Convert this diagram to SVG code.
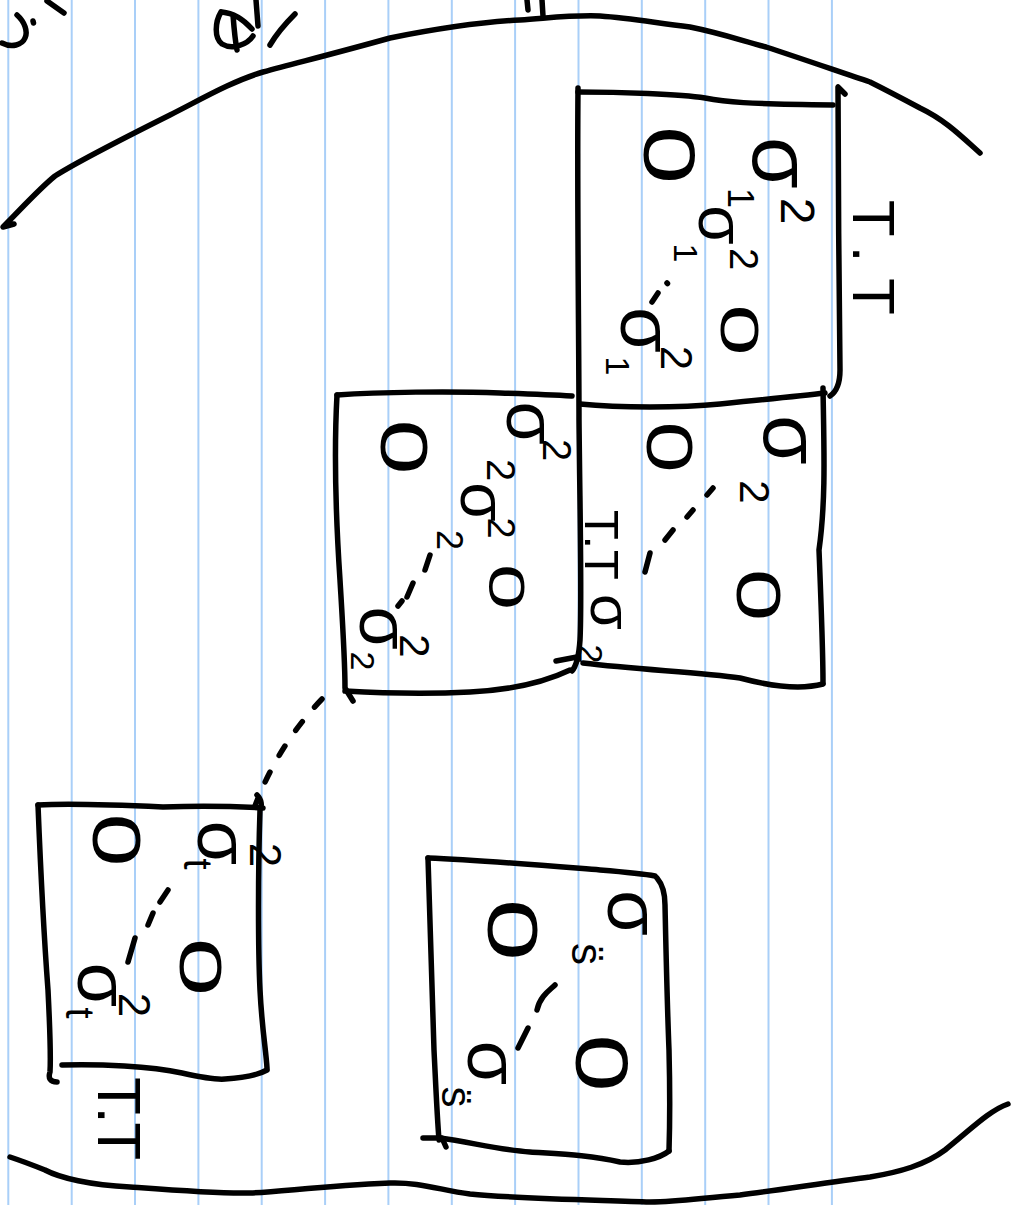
<svg xmlns="http://www.w3.org/2000/svg" width="1013" height="1205" viewBox="0 0 1013 1205">
<defs>
<style>
.rule{stroke:#a9cff8;stroke-width:2}
.ink{fill:none;stroke:#000;stroke-width:5.5;stroke-linecap:round;stroke-linejoin:round}
.dot{fill:none;stroke:#000;stroke-width:5.5;stroke-linecap:round;stroke-dasharray:11 19}
.h{font-family:"Liberation Sans",Arial,sans-serif;fill:#000;text-anchor:middle}
.lbl{font-family:"Liberation Sans",Arial,sans-serif;fill:#000}
</style>
</defs>
<rect width="1013" height="1205" fill="#fff"/>
<g id="paper">
<line class="rule" x1="8.3" y1="0" x2="8.3" y2="1205"/>
<line class="rule" x1="71.7" y1="0" x2="71.7" y2="1205"/>
<line class="rule" x1="135" y1="0" x2="135" y2="1205"/>
<line class="rule" x1="198.4" y1="0" x2="198.4" y2="1205"/>
<line class="rule" x1="261.7" y1="0" x2="261.7" y2="1205"/>
<line class="rule" x1="325.1" y1="0" x2="325.1" y2="1205"/>
<line class="rule" x1="388.4" y1="0" x2="388.4" y2="1205"/>
<line class="rule" x1="451.8" y1="0" x2="451.8" y2="1205"/>
<line class="rule" x1="515.1" y1="0" x2="515.1" y2="1205"/>
<line class="rule" x1="578.5" y1="0" x2="578.5" y2="1205"/>
<line class="rule" x1="641.8" y1="0" x2="641.8" y2="1205"/>
<line class="rule" x1="705.2" y1="0" x2="705.2" y2="1205"/>
<line class="rule" x1="768.5" y1="0" x2="768.5" y2="1205"/>
<line class="rule" x1="831.9" y1="0" x2="831.9" y2="1205"/>
</g>

<g id="edges">
<path class="ink" d="M14,224 L3,227 C20,210 40,188 55,176 C80,160 130,135 170,115 C200,100 230,82 263,72 C300,62 340,52 390,38 C430,30 480,22 520,20 C550,18 570,15 600,16 C630,18 650,22 690,27 C720,33 740,40 766,47 C800,58 840,72 870,82 C890,92 905,100 920,108 C945,120 960,135 980,153"/>
<path class="ink" d="M10,1157 C25,1162 35,1166 45,1170 C60,1178 90,1185 130,1187 C170,1190 220,1194 250,1193 C280,1192 320,1186 390,1183 C420,1182 440,1190 470,1194 C520,1199 600,1200 650,1202 C680,1202 700,1198 740,1195 C780,1190 830,1182 870,1177 C900,1172 925,1165 945,1150 C970,1130 990,1110 1008,1104"/>
<path class="ink" d="M17,15 C25,22 28,32 25,38 C22,45 12,48 2,43 M33,21 L33.5,23 M47,1 L64,13"/>
<path class="ink" d="M221,12 C215,22 214,38 222,44 C232,50 247,45 253,36 M222,12 C232,13 243,19 252,29 M233,15 C234,28 235,40 237,50 M256,0 L258,26 M295,14 C287,22 277,33 270,45"/>
<path class="ink" d="M527,0 L528,10 M542,0 L543,16"/>
</g>

<g id="box-a">
<path class="ink" d="M578,92 C620,92 680,94 705,98 C725,102 745,104 833,105"/>
<path class="ink" d="M845,94 L838,87 C838,150 839,300 840,370 C840,385 836,392 830,396"/>
<path class="ink" d="M578,88 C577,200 579,350 579,420 C580,520 582,600 580,640 C579,655 577,665 572,671"/>
<g transform="translate(670,155) rotate(90) scale(1.45,1)"><text class="h" font-size="72" y="26">0</text></g>
<g transform="translate(740,330) rotate(90) scale(1.7,1)"><text class="h" font-size="54" y="19">0</text></g>
<g transform="translate(775,163) rotate(90)"><text class="h" font-size="84" y="22">σ</text><text class="h" font-size="48" x="48" y="-6">2</text><text class="h" font-size="36" x="35" y="47">1</text></g>
<g transform="translate(716,225) rotate(90)"><text class="h" font-size="64" y="17">σ</text><text class="h" font-size="40" x="34" y="-14">2</text><text class="h" font-size="34" x="28" y="42">1</text></g>
<g transform="translate(640,330) rotate(90)"><text class="h" font-size="74" y="19">σ</text><text class="h" font-size="44" x="28" y="-21">2</text><text class="h" font-size="34" x="36" y="34">1</text></g>
<path class="ink" d="M667,283 l0.5,0.5 M658,293 L652,302"/>
</g>
<g id="label-a">
<g transform="translate(853,200) rotate(90)"><text class="lbl" font-size="60" textLength="115" lengthAdjust="spacing">T.T</text></g>
</g>

<g id="box-b">
<path class="ink" d="M580,404 C620,408 680,408 720,404 C760,400 800,396 825,393"/>
<path class="ink" d="M823,388 C824,450 826,500 819,550 C821,600 823,650 823,683"/>
<path class="ink" d="M823,684 C800,690 770,686 740,678 C700,672 640,670 583,663"/>
<g transform="translate(670,447) rotate(90) scale(1.45,1)"><text class="h" font-size="64" y="23">0</text></g>
<g transform="translate(760,595) rotate(90) scale(1.5,1)"><text class="h" font-size="63" y="23">0</text></g>
<g transform="translate(785,440) rotate(90)"><text class="h" font-size="80" y="21">σ</text><text class="h" font-size="42" x="52" y="45">2</text></g>
<path class="ink" d="M713,488 L707,495 M693,510 L687,517 M673,530 L665,540 M650,553 L645,572"/>
</g>
<g id="label-mid">
<g transform="translate(585,510) rotate(90)"><text class="lbl" font-size="49" textLength="70" lengthAdjust="spacing">T.T</text></g>
<g transform="translate(606,612) rotate(90)"><text class="h" font-size="58" y="15">σ</text><text class="h" font-size="34" x="42" y="27">2</text></g>
</g>

<g id="box-c">
<path class="ink" d="M337,395 C380,392 450,391 500,393 C530,394 555,395 572,396"/>
<path class="ink" d="M337,395 C334,450 336,520 340,580 C343,630 345,660 345,688 L353,701"/>
<path class="ink" d="M345,691 C380,693 430,694 470,692 C510,690 545,682 570,670 M556,661 L577,657"/>
<g transform="translate(405,447) rotate(90) scale(1.5,1)"><text class="h" font-size="66" y="24">0</text></g>
<g transform="translate(507,587) rotate(90) scale(1.65,1)"><text class="h" font-size="50" y="18">0</text></g>
<g transform="translate(525,423) rotate(90)"><text class="h" font-size="70" y="18">σ</text><text class="h" font-size="40" x="27" y="-18">2</text><text class="h" font-size="40" x="47" y="38">2</text></g>
<g transform="translate(478,502) rotate(90)"><text class="h" font-size="64" y="17">σ</text><text class="h" font-size="38" x="26" y="-10">2</text><text class="h" font-size="36" x="38" y="41">2</text></g>
<g transform="translate(378,628) rotate(90)"><text class="h" font-size="70" y="18">σ</text><text class="h" font-size="42" x="18" y="-22">2</text><text class="h" font-size="34" x="33" y="27">2</text></g>
<path class="ink" d="M430,555 L425,570 M413,583 L407,597 M402,601 L398,606"/>
</g>

<g id="box-d">
<path class="ink" d="M38,805 C70,803 120,805 163,807 C190,806 230,806 263,808"/>
<path class="ink" d="M257,795 C262,800 262,806 260,810 C258,870 258,950 260,990 C262,1030 266,1050 267,1068"/>
<path class="ink" d="M38,805 C41,880 45,950 48,990 C50,1030 51,1055 50,1072 C48,1078 50,1082 57,1082"/>
<path class="ink" d="M62,1065 C100,1064 150,1066 182,1073 C200,1077 215,1080 225,1079 C245,1078 258,1075 267,1070"/>
<g transform="translate(117,840) rotate(90) scale(1.4,1)"><text class="h" font-size="68" y="24">0</text></g>
<g transform="translate(202,967) rotate(90) scale(1.75,1)"><text class="h" font-size="60" y="22">0</text></g>
<g transform="translate(217,843) rotate(90)"><text class="h" font-size="72" y="19">σ</text><text class="h" font-size="40" x="21" y="33">t</text><text class="h" font-size="44" x="12" y="-33">2</text></g>
<g transform="translate(97,985) rotate(90)"><text class="h" font-size="72" y="19">σ</text><text class="h" font-size="40" x="28" y="31">t</text><text class="h" font-size="44" x="20" y="-22">2</text></g>
<path class="ink" d="M168,890 L160,902 M153,913 L148,925 M135,938 L128,962"/>
</g>
<g id="label-d">
<g transform="translate(98,1077) rotate(90)"><text class="lbl" font-size="62" textLength="83" lengthAdjust="spacing">T.T</text></g>
</g>

<g id="box-e">
<path class="ink" d="M428,858 C480,860 550,866 600,870 C625,872 645,874 655,876"/>
<path class="ink" d="M657,878 C663,885 665,893 665,905 C666,950 667,1000 669,1050 C670,1090 670,1120 669,1151"/>
<path class="ink" d="M440,1138 C470,1142 500,1150 530,1152 C560,1154 590,1155 620,1162 C640,1164 660,1158 669,1151"/>
<path class="ink" d="M428,858 C430,920 432,983 434,1050 C436,1090 437,1115 439,1140 M423,1138 L442,1138 L446,1147"/>
<g transform="translate(513,930) rotate(90) scale(1.6,1)"><text class="h" font-size="70" y="25">0</text></g>
<g transform="translate(603,1063) rotate(90) scale(1.4,1)"><text class="h" font-size="74" y="27">0</text></g>
<g transform="translate(627,913) rotate(90)"><text class="h" font-size="74" y="19">σ</text><text class="h" font-size="44" x="41" y="55" font-family="DejaVu Sans">s̈</text></g>
<g transform="translate(487,1063) rotate(90)"><text class="h" font-size="72" y="19">σ</text><text class="h" font-size="42" x="34" y="45" font-family="DejaVu Sans">s̈</text></g>
<path class="ink" d="M555,985 C550,990 540,996 537,1010 M528,1028 L518,1048"/>
</g>

<g id="connectors">
<path class="dot" d="M322,699 Q278,745 255,806"/>
</g>
</svg>
